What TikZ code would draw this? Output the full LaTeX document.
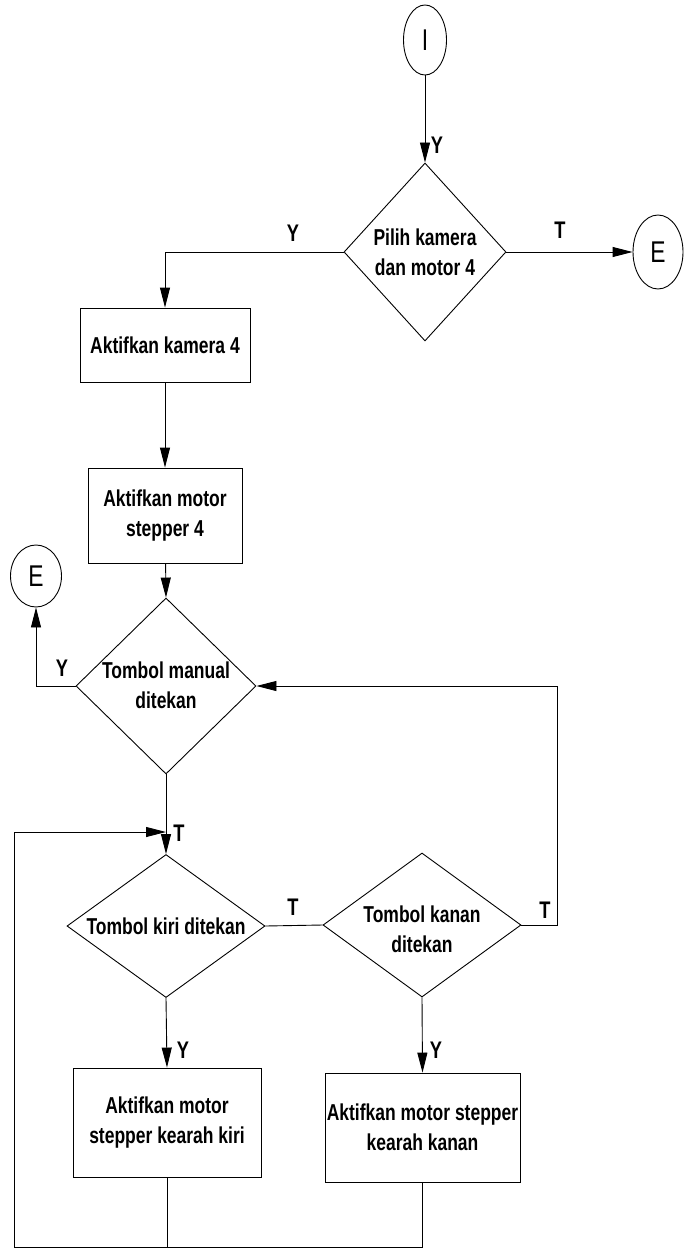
\documentclass[tikz,border=0pt]{standalone}
\usepackage{fontspec}
\setmainfont{Liberation Sans}[FakeStretch=0.76]
\usetikzlibrary{shapes.geometric,arrows.meta}
\begin{document}
\begin{tikzpicture}[x=1pt,y=-1pt,
  every node/.style={font=\fontsize{23}{30}\selectfont\bfseries},
  line/.style={draw=black,line width=0.9pt},
  arr/.style={line,-{Triangle[length=20pt,width=10pt]}},
  proc/.style={draw=black,line width=0.9pt,rectangle,inner sep=0pt,align=center},
  dec/.style={draw=black,line width=0.9pt,diamond,inner sep=0pt},
  term/.style={draw=black,line width=0.9pt,ellipse,inner sep=0pt,font=\fontsize{30}{30}\selectfont},
  txt/.style={align=center,inner sep=0pt},
  yt/.style={inner sep=0pt,font=\fontsize{24}{30}\selectfont\bfseries}]
\useasboundingbox (0,0) rectangle (685,1252);

% start / end connectors
\node[term,minimum width=43pt,minimum height=70pt] (I) at (425,40) {I};
\node[term,minimum width=50pt,minimum height=74pt] (E1) at (658,252) {E};
\node[term,minimum width=51pt,minimum height=62pt] (E2) at (36,576) {E};

% decisions
\node[dec,minimum width=162pt,minimum height=178pt] (d1) at (425,252) {};
\node[txt] (t1) at (d1.center) {Pilih kamera\\dan motor 4};
\node[dec,minimum width=180pt,minimum height=176pt] (d2) at (166,686) {};
\node[txt] (t2) at ([yshift=1pt]d2.center) {Tombol manual\\ditekan};
\node[dec,minimum width=198pt,minimum height=143pt] (d3) at (166,926) {};
\node[txt] (t3) at (d3.center) {Tombol kiri ditekan};
\node[dec,minimum width=198pt,minimum height=144pt] (d4) at (422,925) {};
\node[txt] (t4) at ([yshift=-4pt]d4.center) {Tombol kanan\\ditekan};

% processes
\node[proc,minimum width=170pt,minimum height=74pt] (b1) at (165,345) {Aktifkan kamera 4};
\node[proc,minimum width=154pt,minimum height=95pt] (b2) at (165,515.5) {Aktifkan motor\\stepper 4};
\node[proc,minimum width=188pt,minimum height=109pt] (b3) at (167,1122.5) {Aktifkan motor\\stepper kearah kiri};
\node[proc,minimum width=195pt,minimum height=109pt] (b4) at (422.5,1127.5) {Aktifkan motor stepper\\kearah kanan};

% helper points of the loops
\coordinate (bot) at (14,1247);
\coordinate (join) at (166,832);
\coordinate (rgt) at (557,925);

% connectors
\draw[arr] (I) -- (d1.north);
\draw[arr] (d1.west) -| (b1.north);
\draw[arr] (d1.east) -- (E1.west);
\draw[arr] (b1) -- (b2);
\draw[arr] (b2) -- (d2.north);
\draw[arr] (d2.west) -| (E2.south);
\draw[arr] (d2.south) -- (d3.north);
\draw[line] (d3.east) -- (d4.west);
\draw[arr] (d4.east) -- (rgt) |- (d2.east);
\draw[arr] (d3.south) -- (b3.north);
\draw[arr] (d4.south) -- (b4.north);
\draw[arr] (b4.south) |- (bot) |- (join);
\draw[line] (b3.south) -- (b3.south |- bot);

% branch labels
\node[yt] (y1) at (437,145) {Y};
\node[yt] (y2) at (293,233) {Y};
\node[yt] (n1) at (560,230) {T};
\node[yt] (y3) at (62,668) {Y};
\node[yt] (n2) at (179,833) {T};
\node[yt] (n3) at (293,907) {T};
\node[yt] (n4) at (545,910) {T};
\node[yt] (y4) at (183,1050) {Y};
\node[yt] (y5) at (436,1050) {Y};
\end{tikzpicture}
\end{document}
